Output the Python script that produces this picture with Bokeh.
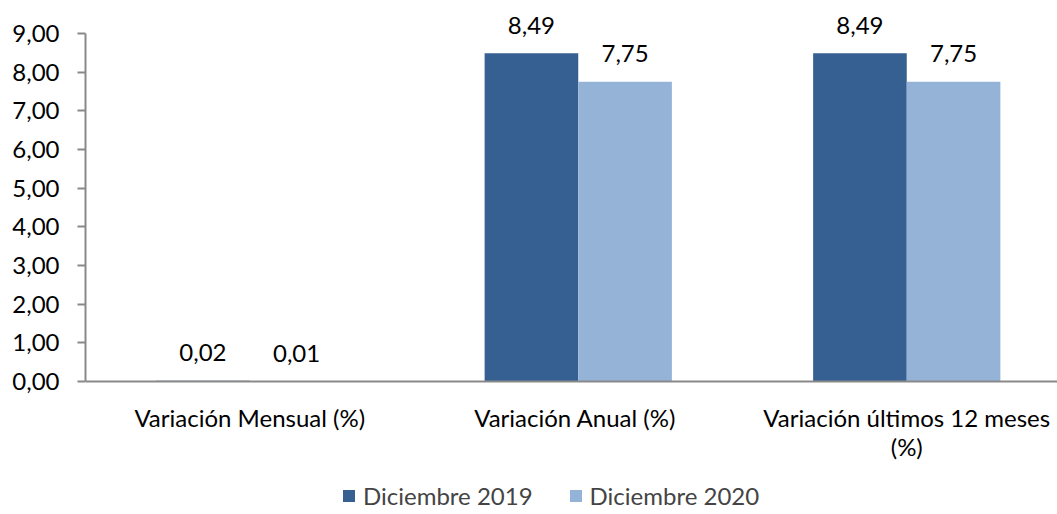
from bokeh.plotting import figure
from bokeh.models import ColumnDataSource, Range1d, FixedTicker, Legend, LegendItem, Span
from bokeh.core.properties import value
from bokeh.embed import file_html
from bokeh.resources import INLINE

categories = ["Variación Mensual (%)", "Variación  Anual (%)", "Variación últimos 12 meses\n(%)"]
series_names = ["Diciembre 2019", "Diciembre 2020"]
dic_2019 = [0.02, 8.49, 8.49]
dic_2020 = [0.01, 7.75, 7.75]
y_ticks = [0, 1, 2, 3, 4, 5, 6, 7, 8, 9]
colors = ["#366092", "#95B3D7"]

FONT = "Lato"
FS = "24px"

def fmt(v):
    return f"{v:.2f}".replace(".", ",")

centers = [i + 0.5 for i in range(len(categories))]
bw = 0.285
cat_px = 328.5
y_px = 38.667
W, H = 1057, 514
left, top_px, zero_px = 85, 33, 381

p = figure(frame_width=W - left, frame_height=H, min_border_left=left, min_border_right=0,
           min_border_top=0, min_border_bottom=0,
           x_range=Range1d(0, (W - left) / cat_px),
           y_range=Range1d(-(H - zero_px) / y_px, 9 + top_px / y_px),
           output_backend="svg", toolbar_location=None)

renderers = []
for k, (vals, col) in enumerate(zip([dic_2019, dic_2020], colors)):
    off = -bw / 2 if k == 0 else bw / 2
    src = ColumnDataSource(dict(x=[c + off for c in centers], top=vals,
                                label=[fmt(v) for v in vals]))
    r = p.vbar(x="x", top="top", width=bw, bottom=0, source=src,
               fill_color=col, line_color=None)
    renderers.append(r)
    p.text(x="x", y="top", text="label", source=src, text_align="center",
           text_baseline="middle", y_offset=-28,
           text_font=value(FONT), text_font_size=FS, text_color="#000000")

# category labels (x axis), one text per line
lx, ly, lo = [], [], []
for c, lab in zip(centers, categories):
    for i, line in enumerate(lab.split("\n")):
        lx.append(c)
        ly.append(0)
        lo.append(36 + 29 * i)
p.text(x=lx, y=ly, text=[l for lab in categories for l in lab.split("\n")],
       y_offset=lo, text_align="center", text_baseline="middle",
       text_font=value(FONT), text_font_size=FS, text_color="#000000")

p.add_layout(Span(location=0, dimension="width", line_color="#898989", line_width=2))

p.grid.visible = False
p.outline_line_color = None
p.background_fill_color = "white"
p.border_fill_color = "white"
p.xaxis.visible = False

ya = p.yaxis[0]
ya.ticker = FixedTicker(ticks=y_ticks)
ya.bounds = (0, 9)
ya.major_label_overrides = {t: fmt(t) for t in y_ticks}
ya.minor_tick_line_color = None
ya.major_tick_out = 8
ya.major_tick_in = 0
ya.axis_line_color = "#898989"
ya.major_tick_line_color = "#898989"
ya.axis_line_width = 2
ya.major_tick_line_width = 2
ya.major_label_text_font = FONT
ya.major_label_text_font_size = FS
ya.major_label_text_color = "#000000"
ya.major_label_standoff = 18

legend = Legend(items=[LegendItem(label=n, renderers=[r]) for n, r in zip(series_names, renderers)],
                orientation="horizontal", location=(256, 4),
                label_text_font=FONT, label_text_font_size=FS,
                glyph_width=15, glyph_height=15, spacing=35, label_standoff=7,
                border_line_color=None, background_fill_alpha=0, margin=0, padding=0)
p.add_layout(legend, "center")

open("out.html", "w").write(file_html(p, INLINE))
